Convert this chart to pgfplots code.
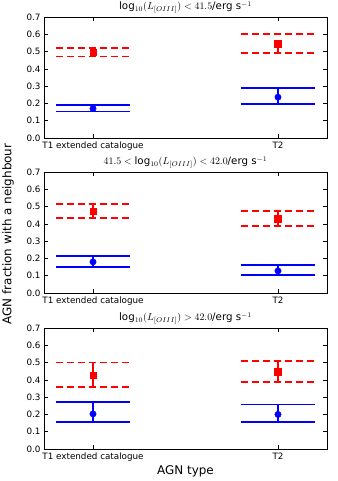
\documentclass[border=0pt]{standalone}
\usepackage{pgfplots}
\pgfplotsset{compat=1.18}
\usepackage{fontspec}
\setmainfont{DejaVu Sans}
\begin{document}
\begin{tikzpicture}[x=1bp,y=1bp]
\useasboundingbox (0,0) rectangle (337,481);
\pgfplotsset{
  panel/.style={
    at={(44bp,#1)}, anchor=south west, scale only axis,
    width=283bp, height=121bp,
    xmin=-0.265, xmax=1.265, ymin=0, ymax=0.7,
    xtick={0,1}, xticklabels={T1 extended catalogue, T2},
    ytick={0,0.1,0.2,0.3,0.4,0.5,0.6,0.7},
    yticklabel style={/pgf/number format/.cd, fixed, fixed zerofill, precision=1},
    /pgf/number format/assume math mode=true,
    tick align=inside, tick pos=both,
    major tick length=4bp,
    tick style={black, line width=0.6bp},
    axis line style={line width=0.8bp},
    ticklabel style={font=\fontsize{8.8}{10}\selectfont},
    title style={font=\fontsize{10.3}{11}\selectfont, yshift=-6bp},
    clip=false,
  },
  rdash/.style={red, line width=1.8bp, dash pattern=on 7bp off 4bp},
  bsolid/.style={blue, line width=1.8bp},
  rpt/.style={red, only marks, mark=square*, mark size=3.3bp,
    error bars/.cd, y dir=both, y explicit, error mark=none,
    error bar style={red, line width=1.4bp, solid}},
  bpt/.style={blue, only marks, mark=*, mark size=3.2bp,
    error bars/.cd, y dir=both, y explicit, error mark=none,
    error bar style={blue, line width=1.4bp, solid}},
}
% Panel 1
\begin{axis}[panel=343bp,
  title={log$_{10}(L_{[OIII]})<41.5$/erg s$^{-1}$}]
\addplot[rdash] coordinates {(-0.2,0.520) (0.2,0.520)};
\addplot[rdash] coordinates {(-0.2,0.472) (0.2,0.472)};
\addplot[bsolid] coordinates {(-0.2,0.190) (0.2,0.190)};
\addplot[bsolid] coordinates {(-0.2,0.153) (0.2,0.153)};
\addplot[rdash] coordinates {(0.8,0.600) (1.2,0.600)};
\addplot[rdash] coordinates {(0.8,0.490) (1.2,0.490)};
\addplot[bsolid] coordinates {(0.8,0.288) (1.2,0.288)};
\addplot[bsolid] coordinates {(0.8,0.195) (1.2,0.195)};
\addplot[rpt] coordinates {(0,0.497) += (0,0.015) -= (0,0.015) (1,0.545) += (0,0.02) -= (0,0.055)};
\addplot[bpt] coordinates {(0,0.170) += (0,0.01) -= (0,0.01) (1,0.236) += (0,0.052) -= (0,0.041)};
\end{axis}
% Panel 2
\begin{axis}[panel=188bp,
  title={$41.5<{}$log$_{10}(L_{[OIII]})<42.0$/erg s$^{-1}$}]
\addplot[rdash] coordinates {(-0.2,0.515) (0.2,0.515)};
\addplot[rdash] coordinates {(-0.2,0.435) (0.2,0.435)};
\addplot[bsolid] coordinates {(-0.2,0.212) (0.2,0.212)};
\addplot[bsolid] coordinates {(-0.2,0.152) (0.2,0.152)};
\addplot[rdash] coordinates {(0.8,0.474) (1.2,0.474)};
\addplot[rdash] coordinates {(0.8,0.388) (1.2,0.388)};
\addplot[bsolid] coordinates {(0.8,0.163) (1.2,0.163)};
\addplot[bsolid] coordinates {(0.8,0.104) (1.2,0.104)};
\addplot[rpt] coordinates {(0,0.474) += (0,0.041) -= (0,0.039) (1,0.430) += (0,0.044) -= (0,0.042)};
\addplot[bpt] coordinates {(0,0.180) += (0,0.032) -= (0,0.028) (1,0.128) += (0,0.035) -= (0,0.024)};
\end{axis}
% Panel 3
\begin{axis}[panel=32bp,
  title={log$_{10}(L_{[OIII]})>42.0$/erg s$^{-1}$},
  xlabel={AGN type},
  xlabel style={font=\fontsize{12}{14}\selectfont, yshift=2bp}]
\addplot[rdash] coordinates {(-0.2,0.500) (0.2,0.500)};
\addplot[rdash] coordinates {(-0.2,0.360) (0.2,0.360)};
\addplot[bsolid] coordinates {(-0.2,0.270) (0.2,0.270)};
\addplot[bsolid] coordinates {(-0.2,0.157) (0.2,0.157)};
\addplot[rdash] coordinates {(0.8,0.508) (1.2,0.508)};
\addplot[rdash] coordinates {(0.8,0.386) (1.2,0.386)};
\addplot[bsolid] coordinates {(0.8,0.257) (1.2,0.257)};
\addplot[bsolid] coordinates {(0.8,0.158) (1.2,0.158)};
\addplot[rpt] coordinates {(0,0.428) += (0,0.072) -= (0,0.068) (1,0.446) += (0,0.062) -= (0,0.060)};
\addplot[bpt] coordinates {(0,0.203) += (0,0.067) -= (0,0.046) (1,0.200) += (0,0.057) -= (0,0.042)};
\end{axis}
\node[rotate=90, font=\fontsize{12}{14}\selectfont] at (8,247) {AGN fraction with a neighbour};
\end{tikzpicture}
\end{document}
